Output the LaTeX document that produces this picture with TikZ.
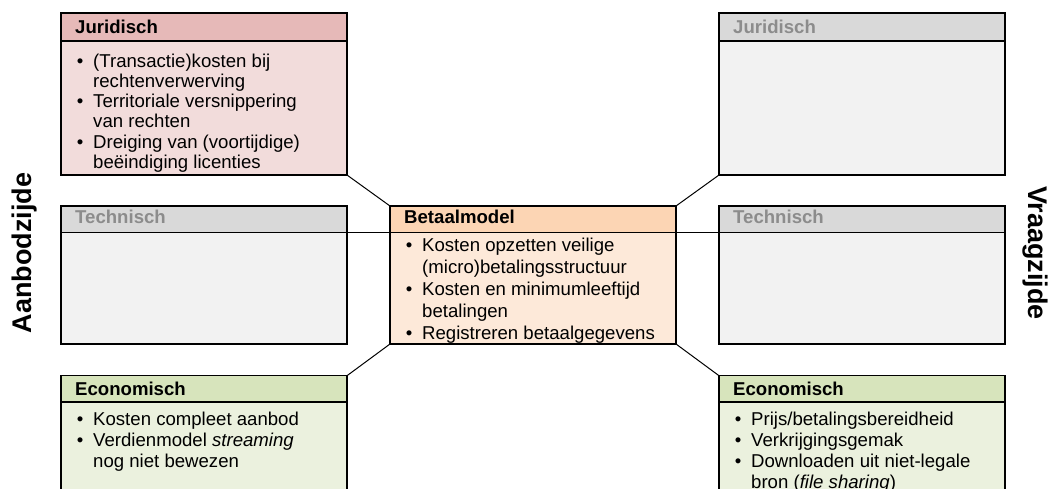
\documentclass[tikz,border=0pt]{standalone}
\usepackage{fontspec}
\setmainfont{Liberation Sans}
\definecolor{jurH}{HTML}{E6B9B8}
\definecolor{jurB}{HTML}{F2DCDB}
\definecolor{betH}{HTML}{FCD5B4}
\definecolor{betB}{HTML}{FDE9D9}
\definecolor{ecoH}{HTML}{D7E4BC}
\definecolor{ecoB}{HTML}{EBF1DE}
\definecolor{gryH}{HTML}{D9D9D9}
\definecolor{gryB}{HTML}{F2F2F2}
\definecolor{gryT}{HTML}{8C8C8C}
\newcommand\bu{\makebox[16.3pt][l]{•}}
\newcommand\ct{\makebox[16.3pt]{}}
\begin{document}
\begin{tikzpicture}[x=1pt,y=-1pt,
  frame/.style={draw, line width=1.3pt, minimum width=286pt, inner sep=0pt, outer sep=0pt, anchor=north west},
  hbar/.style={draw, line width=1.3pt, minimum width=286pt, inner sep=0pt, outer sep=0pt, anchor=north west},
  htext/.style={font=\bfseries\fontsize{18.6}{21}\selectfont, inner sep=0pt, anchor=base west},
  btext/.style={font=\fontsize{18.6}{#1}\selectfont, align=left, inner sep=0pt, anchor=base west},
  btext/.default=21,
  conn/.style={line width=1pt},
  side/.style={font=\bfseries\fontsize{27}{27}\selectfont, inner sep=0pt, anchor=base}]
\useasboundingbox (0,0) rectangle (1056,488);
\begin{scope}
\clip (0,0) rectangle (1056,488);
% top left: Juridisch
\node[frame, fill=jurB, minimum height=162pt] (jl) at (61,13) {};
\node[hbar, fill=jurH, minimum height=28pt] (jlh) at (jl.north west) {};
\node[htext] (jlht) at (75,33.5) {Juridisch};
% anchor base = baseline of the last line
\node[btext=20.3] (jlb) at (76.7,168.5) {\bu(Transactie)kosten bij\\ \ct rechtenverwerving\\ \bu Territoriale versnippering\\ \ct van rechten\\ \bu Dreiging van (voortijdige)\\ \ct beëindiging licenties};
% top right: Juridisch (grey)
\node[frame, fill=gryB, minimum height=162pt] (jr) at (719,13) {};
\node[hbar, fill=gryH, minimum height=28pt] (jrh) at (jr.north west) {};
\node[htext, text=gryT] (jrht) at (733,33.5) {Juridisch};
% middle left: Technisch (grey)
\node[frame, fill=gryB, minimum height=138pt] (tl) at (61,206) {};
\node[hbar, fill=gryH, minimum height=26.3pt] (tlh) at (tl.north west) {};
\node[htext, text=gryT] (tlht) at (75,223.5) {Technisch};
% middle right: Technisch (grey)
\node[frame, fill=gryB, minimum height=138pt] (tr) at (719,206) {};
\node[hbar, fill=gryH, minimum height=26.3pt] (trh) at (tr.north west) {};
\node[htext, text=gryT] (trht) at (733,223.5) {Technisch};
% centre: Betaalmodel
\node[frame, fill=betB, minimum height=138pt] (bm) at (390,206) {};
\node[hbar, fill=betH, minimum height=26.3pt] (bmh) at (bm.north west) {};
\node[htext] (bmht) at (404,223.5) {Betaalmodel};
\node[btext=22.1] (bmb) at (405.7,339.9) {\bu Kosten opzetten veilige\\ \ct (micro)betalingsstructuur\\ \bu Kosten en minimumleeftijd\\ \ct betalingen\\ \bu Registreren betaalgegevens};
% bottom left: Economisch
\node[frame, fill=ecoB, minimum height=140pt] (el) at (61,375.7) {};
\node[hbar, fill=ecoH, minimum height=26.3pt] (elh) at (el.north west) {};
\node[htext] (elht) at (75,395) {Economisch};
\node[btext=21] (elb) at (76.7,467) {\bu Kosten compleet aanbod\\ \bu Verdienmodel \textit{streaming}\\ \ct nog niet bewezen};
% bottom right: Economisch
\node[frame, fill=ecoB, minimum height=140pt] (er) at (719,375.7) {};
\node[hbar, fill=ecoH, minimum height=26.3pt] (erh) at (er.north west) {};
\node[htext] (erht) at (733,395) {Economisch};
\node[btext=21] (erb) at (734.7,488) {\bu Prijs/betalingsbereidheid\\ \bu Verkrijgingsgemak\\ \bu Downloaden uit niet-legale\\ \ct bron (\textit{file sharing})};
% connectors
\draw[conn] (jl.south east) -- (bm.north west);
\draw[conn] (jr.south west) -- (bm.north east);
\draw[conn] (el.north east) -- (bm.south west);
\draw[conn] (er.north west) -- (bm.south east);
\draw[line width=1.3pt] (tlh.south east) -- (bmh.south west);
\draw[line width=1.3pt] (bmh.south east) -- (trh.south west);
% side labels
\node[side, rotate=90] (aan) at (31.7,253) {Aanbodzijde};
\node[side, rotate=-90] (vra) at (1028,253) {Vraagzijde};
\end{scope}
\end{tikzpicture}
\end{document}
